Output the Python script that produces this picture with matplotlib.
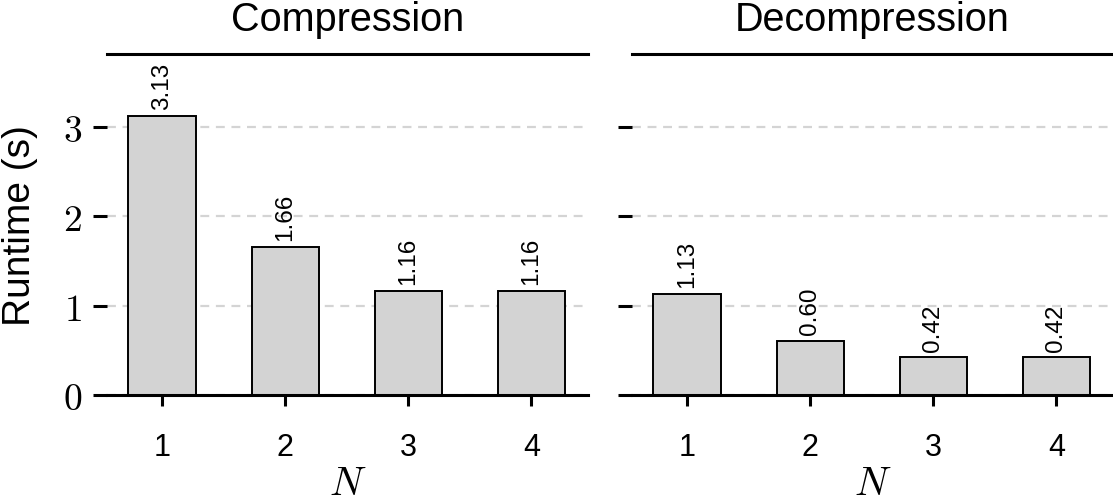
import matplotlib
matplotlib.use("Agg")
import matplotlib.pyplot as plt
from matplotlib.ticker import FuncFormatter

plt.rcParams['font.family'] = ['Liberation Sans', 'DejaVu Sans']
plt.rcParams['mathtext.fontset'] = 'cm'

n_values = [1, 2, 3, 4]
compression = [3.13, 1.66, 1.16, 1.16]
decompression = [1.13, 0.60, 0.42, 0.42]
panel_titles = ['Compression', 'Decompression']
y_ticks = [0, 1, 2, 3]

fig = plt.figure(figsize=(11.13, 5.02), dpi=100)
ax1 = fig.add_axes([0.0961, 0.2112, 0.4322, 0.6792])
ax2 = fig.add_axes([0.5678, 0.2112, 0.4322, 0.6792], sharey=ax1)

ymax = max(compression) * 1.22

for ax, vals, title in zip([ax1, ax2], [compression, decompression], panel_titles):
    ax.yaxis.grid(True, color='#d4d4d4', linestyle=(0, (4, 3)), linewidth=1.6)
    ax.set_axisbelow(True)
    bars = ax.bar(n_values, vals, width=0.55, color='lightgray',
                  edgecolor='black', linewidth=1.4, zorder=2)
    ax.bar_label(bars, labels=[f'{v:.2f}' for v in vals], rotation=90,
                 padding=5, fontsize=17.5)
    ax.set_xlim(0.55, 4.46)
    ax.set_ylim(0, ymax)
    ax.set_xticks(n_values)
    ax.set_yticks(y_ticks)
    ax.spines['left'].set_visible(False)
    ax.spines['right'].set_visible(False)
    ax.spines['top'].set_linewidth(2.2)
    ax.spines['bottom'].set_linewidth(2.2)
    ax.tick_params(axis='x', length=8, width=2.2, labelsize=22, pad=19)
    ax.tick_params(axis='y', length=10, width=2.2, labelsize=27, pad=8)
    ax.set_title(title, fontsize=28.5, pad=17)
    ax.set_xlabel('$N$', fontsize=29, labelpad=1)

ax1.yaxis.set_major_formatter(FuncFormatter(lambda v, p: f'${v:.0f}$'))
ax2.tick_params(axis='y', labelleft=False)
ax1.set_ylabel('Runtime (s)', fontsize=28, labelpad=18)

fig.savefig('out.png', dpi=100)
